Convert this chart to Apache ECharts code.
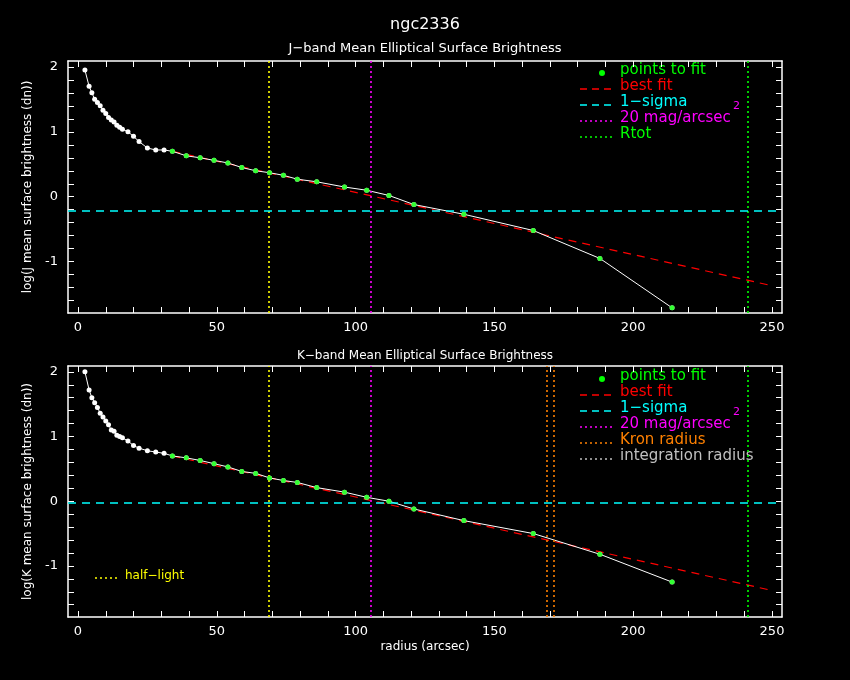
<!DOCTYPE html><html><head><meta charset="utf-8">
<script src="https://cdn.jsdelivr.net/npm/echarts@6/dist/echarts.min.js"></script>
<style>html,body{margin:0;background:#000}#c{width:850px;height:680px}</style></head><body><div id="c"></div>
<script>
const innerR=[2.5,4,5,6,7,8,9,10,11,12,13,14,15,16,18,20,22,25,28,31];
const innerJ=[1.95,1.7,1.6,1.5,1.45,1.4,1.33,1.28,1.22,1.18,1.15,1.1,1.07,1.04,1.0,0.93,0.85,0.75,0.72,0.72];
const innerK=[2.0,1.72,1.6,1.52,1.45,1.36,1.3,1.24,1.18,1.1,1.08,1.02,1.0,0.98,0.93,0.86,0.82,0.78,0.76,0.74];
const fitR=[34,39,44,49,54,59,64,69,74,79,86,96,104,112,121,139,164,188,214];
const fitJ=[0.7,0.63,0.6,0.56,0.52,0.45,0.4,0.37,0.33,0.27,0.23,0.15,0.1,0.02,-0.12,-0.27,-0.52,-0.95,-1.71];
const fitK=[0.7,0.67,0.63,0.58,0.53,0.46,0.43,0.36,0.32,0.29,0.21,0.14,0.06,0.0,-0.12,-0.3,-0.5,-0.82,-1.25];
const bestX=[34,250];
const bestJ=[0.7,-1.37];
const bestK=[0.7,-1.38];
const sigmaJ=-0.22, sigmaK=-0.03;
const halfLight=68.8, mag20=105.5, rtot=241.2, kron=169, integ=171.5;
const xTicks=[0,10,20,30,40,50,60,70,80,90,100,110,120,130,140,150,160,170,180,190,200,210,220,230,240,250];
const xLabels=[0,50,100,150,200,250];
const yTicks=[-1.6,-1.4,-1.2,-1,-0.8,-0.6,-0.4,-0.2,0,0.2,0.4,0.6,0.8,1,1.2,1.4,1.6,1.8,2];
const yLabels=[-1,0,1,2];
const F='DejaVu Sans';
const ch=echarts.init(document.getElementById('c'));
const grids=[{left:68,top:61,width:714,height:252},{left:68,top:366,width:714,height:251}];
const xAxes=[],yAxes=[];
[0,1].forEach(g=>{
 ['bottom','top'].forEach(p=>xAxes.push({gridIndex:g,type:'value',position:p,min:-3.6,max:253.6,
  axisLine:{show:true,onZero:false,lineStyle:{color:'#fff',width:1.5}},splitLine:{show:false},
  axisTick:{show:true,inside:true,length:6,customValues:xTicks,lineStyle:{color:'#fff'}},
  axisLabel:{show:p==='bottom',customValues:xLabels,color:'#fff',fontFamily:F,fontSize:13,margin:8},
  name:(g===1&&p==='bottom')?'radius (arcsec)':'',nameLocation:'middle',nameGap:24,nameTextStyle:{color:'#fff',fontFamily:F,fontSize:12}}));
 ['left','right'].forEach(p=>yAxes.push({gridIndex:g,type:'value',position:p,min:-1.79,max:2.09,
  axisLine:{show:true,onZero:false,lineStyle:{color:'#fff',width:1.5}},splitLine:{show:false},
  axisTick:{show:true,inside:true,length:6,customValues:yTicks,lineStyle:{color:'#fff'}},
  axisLabel:{show:p==='left',customValues:yLabels,color:'#fff',fontFamily:F,fontSize:13,margin:10},
  name:p==='left'?(g===0?'log(J mean surface brightness (dn))':'log(K mean surface brightness (dn))'):'',
  nameLocation:'middle',nameGap:34,nameTextStyle:{color:'#fff',fontFamily:F,fontSize:12}}));
});
const series=[];
function mark(g,item,color,dash){
 series.push({type:'line',xAxisIndex:2*g,yAxisIndex:2*g,data:[],silent:true,
  markLine:{silent:true,symbol:'none',label:{show:false},lineStyle:{color:color,type:dash,width:1.6,opacity:1},data:[item]}});
}
[[innerJ,fitJ,bestJ,sigmaJ,[[halfLight,'#ffff00'],[mag20,'#ff00ff'],[rtot,'#00ff00']]],
 [innerK,fitK,bestK,sigmaK,[[halfLight,'#ffff00'],[mag20,'#ff00ff'],[kron,'#ff8000'],[integ,'#ff8000'],[rtot,'#00ff00']]]].forEach((d,g)=>{
 const xi=2*g, yi=2*g;
 d[4].forEach(v=>mark(g,{xAxis:v[0]},v[1],[2,3]));
 mark(g,{yAxis:d[3]},'#00ffff',[8,6]);
 series.push({type:'line',xAxisIndex:xi,yAxisIndex:yi,data:bestX.map((x,i)=>[x,d[2][i]]),symbol:'none',silent:true,
  lineStyle:{color:'#ff0000',type:[8,6],width:1.2}});
 series.push({type:'line',xAxisIndex:xi,yAxisIndex:yi,data:innerR.concat(fitR).map((x,i)=>[x,d[0].concat(d[1])[i]]),
  symbol:'circle',symbolSize:5,itemStyle:{color:'#fff'},lineStyle:{color:'#fff',width:1}});
 series.push({type:'scatter',xAxisIndex:xi,yAxisIndex:yi,data:fitR.map((x,i)=>[x,d[1][i]]),symbolSize:5,itemStyle:{color:'#00ff00'},z:5});
});
const leg=[];
function legRow(y,text,color,kind){
 if(kind==='dot')leg.push({type:'circle',shape:{cx:602,cy:y,r:3},style:{fill:color}});
 else leg.push({type:'line',shape:{x1:580,y1:y,x2:612,y2:y},style:{stroke:color,lineWidth:1.5,lineDash:kind==='dash'?[7,5]:[2,3]}});
 leg.push({type:'text',left:620,top:y-10,style:{text:text,fill:color,font:'15px '+F}});
}
function legend(top,rows){rows.forEach((r,i)=>legRow(top+i*16,r[0],r[1],r[2]));}
legend(73,[['points to fit','#00ff00','dot'],['best fit','#ff0000','dash'],['1−sigma','#00ffff','dash'],['20 mag/arcsec','#ff00ff','dot2'],['Rtot','#00ff00','dot2']]);
legend(379,[['points to fit','#00ff00','dot'],['best fit','#ff0000','dash'],['1−sigma','#00ffff','dash'],['20 mag/arcsec','#ff00ff','dot2'],['Kron radius','#ff8000','dot2'],['integration radius','#c0c0c0','dot2']]);
leg.push({type:'text',left:733,top:101,style:{text:'2',fill:'#ff00ff',font:'11px '+F}});
leg.push({type:'text',left:733,top:407,style:{text:'2',fill:'#ff00ff',font:'11px '+F}});
leg.push({type:'line',shape:{x1:95,y1:578,x2:118,y2:578},style:{stroke:'#ffff00',lineWidth:1.5,lineDash:[2,3]}});
leg.push({type:'text',left:125,top:570,style:{text:'half−light',fill:'#ffff00',font:'12px '+F}});
ch.setOption({backgroundColor:'#000',animation:false,
 title:[{text:'ngc2336',left:'center',top:12,textStyle:{color:'#fff',fontFamily:F,fontSize:16,fontWeight:'normal'}},
  {text:'J−band Mean Elliptical Surface Brightness',left:'center',top:37,textStyle:{color:'#fff',fontFamily:F,fontSize:13,fontWeight:'normal'}},
  {text:'K−band Mean Elliptical Surface Brightness',left:'center',top:345,textStyle:{color:'#fff',fontFamily:F,fontSize:12,fontWeight:'normal'}}],
 grid:grids,xAxis:xAxes,yAxis:yAxes,series:series,graphic:leg});
</script></body></html>
